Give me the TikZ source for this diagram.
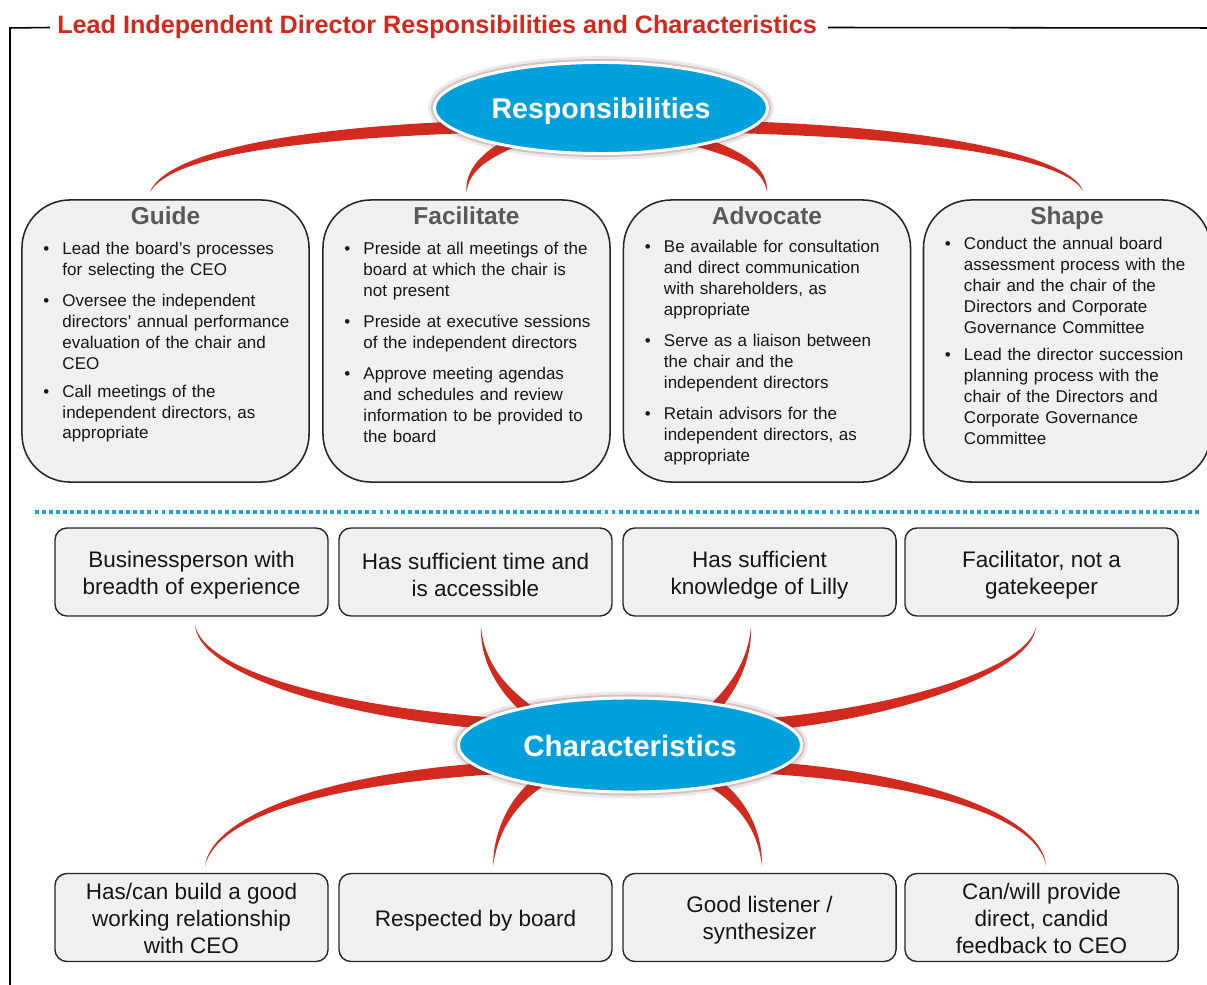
\documentclass[tikz,border=0pt]{standalone}
\usepackage{fontspec}
\setmainfont{Liberation Sans}
\usetikzlibrary{shapes,backgrounds,calc,positioning}

\definecolor{leadred}{RGB}{214,38,28}
\definecolor{swooshred}{RGB}{210,42,30}
\definecolor{bubbleblue}{RGB}{0,160,221}
\definecolor{shadowred}{RGB}{110,60,60}
\definecolor{boxgray}{RGB}{240,240,240}
\definecolor{edgegray}{RGB}{38,38,38}
\definecolor{headgray}{RGB}{89,89,89}
\definecolor{dotblue}{RGB}{28,165,225}
\definecolor{textblack}{RGB}{22,22,22}

% bullet line with hanging indent
\newcommand{\bl}[1]{\noindent\makebox[0.475cm][l]{\textbullet}\parbox[t]{6cm}{\raggedright #1}\par\vspace{0.35cm}}
% tapered red stroke: tip node, tip shift, c1, c2, end node, end shift, half width at end, half width at c1
\newcommand{\swoosh}[8]{%
  \fill[swooshred] ($#1+#2$) .. controls ($#3+#8$) and ($#4+#7$) .. ($#5+#6+#7$)
    -- ($#5+#6-#7$) .. controls ($#4-#7$) and ($#3-#8$) .. ($#1+#2$) -- cycle;}

\begin{document}
\begin{tikzpicture}[x=0.025cm,y=-0.025cm]

\tikzstyle{frame}=[line width=1.1pt]
\tikzstyle{topbox}=[draw=edgegray, fill=boxgray, line width=1.1pt, rounded corners=1.2cm, minimum width=7.175cm, minimum height=7.05cm]
\tikzstyle{boxhead}=[anchor=base, inner sep=0pt, text=headgray, font=\bfseries\fontsize{17.4}{20}\selectfont]
\tikzstyle{bullets}=[anchor=north west, inner sep=0pt, text width=6.5cm, align=left, text=textblack, font=\fontsize{12.1}{14.8}\selectfont]
\tikzstyle{charbox}=[draw=edgegray, fill=boxgray, line width=1pt, rounded corners=0.3cm, minimum width=6.825cm, minimum height=2.2cm]
\tikzstyle{chartext}=[inner sep=0pt, align=center, text=textblack, font=\fontsize{16}{19.3}\selectfont]
\tikzstyle{bubble}=[ellipse, fill=bubbleblue, draw=white, line width=2.1pt, inner sep=0pt,
  preaction={draw=shadowred, line width=9pt, opacity=0.12},
  preaction={draw=shadowred, line width=5pt, opacity=0.22}]
\tikzstyle{bubbletext}=[inner sep=0pt, text=white]
\tikzstyle{dotline}=[dotblue, line width=2.8pt, dash pattern=on 2.8pt off 2.2pt]

\useasboundingbox (0,0) rectangle (1207,984);

% title and frame
\node (title) [anchor=base west, inner sep=0pt, text=leadred, font=\bfseries\fontsize{17.9}{20}\selectfont] at (57,34) {Lead Independent Director Responsibilities and Characteristics};
\draw[frame] ($(title.west)+(-7,0)$) -- (10,28) -- (10,990);
\draw[frame] ($(title.east)+(11,0)$) -- (1215,28);

% responsibilities
\node (resp) [bubble, minimum width=8.325cm, minimum height=2.275cm] at (601,108) {};
\node (respt) [bubbletext, font=\bfseries\fontsize{20.3}{24}\selectfont] at ($(resp.center)+(0,3)$) {Responsibilities};

\node (guide) [topbox] at (165.5,341) {};
\node (facilitate) [topbox] at (466.5,341) {};
\node (advocate) [topbox] at (767,341) {};
\node (shapebox) [topbox] at (1067,341) {};

\node (guidet) [boxhead] at ($(guide.north)+(0,25)$) {Guide};
\node (facilitatet) [boxhead] at ($(facilitate.north)+(0,25)$) {Facilitate};
\node (advocatet) [boxhead] at ($(advocate.north)+(0,25)$) {Advocate};
\node (shapet) [boxhead] at ($(shapebox.north)+(0,25)$) {Shape};

\node (guidel) [bullets] at ($(guide.north west)+(22,43)$) {%
\bl{Lead the board’s processes\\for selecting the CEO}
\bl{Oversee the independent\\directors’ annual performance\\evaluation of the chair and\\CEO}
\bl{Call meetings of the\\independent directors, as\\appropriate}};
\node (facilitatel) [bullets] at ($(facilitate.north west)+(22,43)$) {%
\bl{Preside at all meetings of the\\board at which the chair is\\not present}
\bl{Preside at executive sessions\\of the independent directors}
\bl{Approve meeting agendas\\and schedules and review\\information to be provided to\\the board}};
\node (advocatel) [bullets] at ($(advocate.north west)+(22,41)$) {%
\bl{Be available for consultation\\and direct communication\\with shareholders, as\\appropriate}
\bl{Serve as a liaison between\\the chair and the\\independent directors}
\bl{Retain advisors for the\\independent directors, as\\appropriate}};
\node (shapel) [bullets] at ($(shapebox.north west)+(22,38)$) {%
\bl{Conduct the annual board\\assessment process with the\\chair and the chair of the\\Directors and Corporate\\Governance Committee}
\bl{Lead the director succession\\planning process with the\\chair of the Directors and\\Corporate Governance\\Committee}};

\draw[dotline] (35,512) -- (1200,512);

% characteristics
\node (chars) [bubble, minimum width=8.575cm, minimum height=2.35cm] at (630,745) {};
\node (charst) [bubbletext, font=\bfseries\fontsize{21}{25}\selectfont] at ($(chars.center)+(0,1)$) {Characteristics};

\node (busi) [charbox] at (191.5,572) {};
\node (time) [charbox] at (475.5,572) {};
\node (know) [charbox] at (759.5,572) {};
\node (gate) [charbox] at (1041.5,572) {};
\node (rapport) [charbox] at (191.5,917.5) {};
\node (respect) [charbox] at (475.5,917.5) {};
\node (listen) [charbox] at (759.5,917.5) {};
\node (candid) [charbox] at (1041.5,917.5) {};

\node (busit) [chartext] at ($(busi.center)+(0,3)$) {Businessperson with\\breadth of experience};
\node (timet) [chartext] at ($(time.center)+(0,3)$) {Has sufficient time and\\is accessible};
\node (knowt) [chartext] at ($(know.center)+(0,3)$) {Has sufficient\\knowledge of Lilly};
\node (gatet) [chartext] at ($(gate.center)+(0,3)$) {Facilitator, not a\\gatekeeper};
\node (rapportt) [chartext] at ($(rapport.center)+(0,1)$) {Has/can build a good\\working relationship\\with CEO};
\node (respectt) [chartext] at ($(respect.center)+(0,3)$) {Respected by board};
\node (listent) [chartext] at ($(listen.center)+(0,3)$) {Good listener /\\synthesizer};
\node (candidt) [chartext] at ($(candid.center)+(0,1)$) {Can/will provide\\direct, candid\\feedback to CEO};

% red strokes
\begin{scope}[on background layer]
\swoosh{(guide.north)}{(-15.5,-7)}{(165,160)}{(260,135)}{(resp.center)}{(-131,19)}{(0,6)}{(3,1)}
\swoosh{(facilitate.north)}{(0,-7)}{(467,170)}{(485,152)}{(resp.center)}{(-71,27)}{(2.5,5)}{(2.5,0)}
\swoosh{(advocate.north)}{(0,-7)}{(766,170)}{(745,152)}{(resp.center)}{(71,27)}{(-2.5,5)}{(-2.5,0)}
\swoosh{(shapebox.north)}{(16,-8)}{(1070,160)}{(950,133)}{(resp.center)}{(131,19)}{(0,6)}{(-3,1)}

\swoosh{(busi.south)}{(3.5,8)}{(200,670)}{(330,712)}{(chars.center)}{(-130,-21)}{(0,6)}{(-3,1)}
\swoosh{(time.south)}{(5.5,10)}{(482,668)}{(510,700)}{(chars.center)}{(-85,-23)}{(-3,5)}{(-2.5,0)}
\swoosh{(know.south)}{(-8.5,10)}{(750,668)}{(725,700)}{(chars.center)}{(70,-23)}{(3,5)}{(2.5,0)}
\swoosh{(gate.south)}{(-5.5,10)}{(1030,670)}{(900,712)}{(chars.center)}{(140,-21)}{(0,6)}{(3,1)}

\swoosh{(rapport.north)}{(13.5,-7)}{(215,815)}{(330,778)}{(chars.center)}{(-130,23)}{(0,6)}{(3,0)}
\swoosh{(respect.north)}{(17.5,-7)}{(496,828)}{(515,795)}{(chars.center)}{(-80,30)}{(3,5)}{(2.5,0)}
\swoosh{(listen.north)}{(2.5,-7)}{(760,828)}{(740,795)}{(chars.center)}{(70,30)}{(-3,5)}{(-2.5,0)}
\swoosh{(candid.north)}{(4.5,-7)}{(1040,815)}{(920,778)}{(chars.center)}{(140,23)}{(0,6)}{(-3,0)}
\end{scope}

\end{tikzpicture}
\end{document}
